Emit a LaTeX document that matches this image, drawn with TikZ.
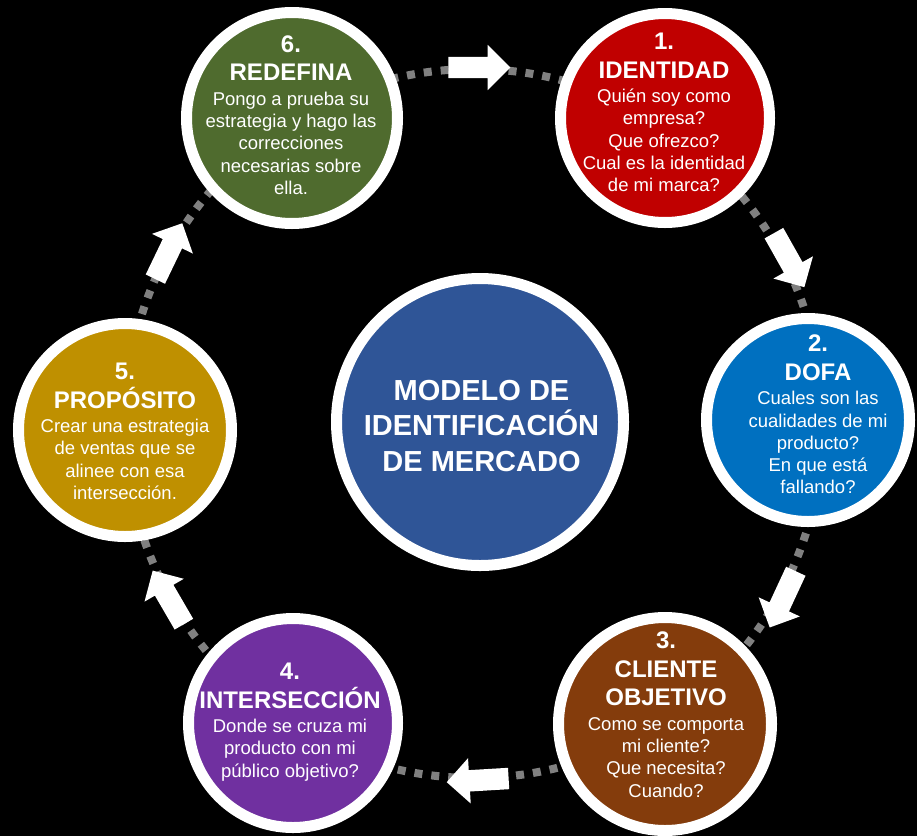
\documentclass[tikz,border=0pt]{standalone}
\usepackage{fontspec}
\setmainfont{Liberation Sans}
\usetikzlibrary{shapes.arrows}
\setlength\parindent{0pt}
\definecolor{cRed}{HTML}{C00000}
\definecolor{cGreen}{HTML}{4F6B2E}
\definecolor{cBlue}{HTML}{0070C0}
\definecolor{cBrown}{HTML}{843C0C}
\definecolor{cPurple}{HTML}{7030A0}
\definecolor{cGold}{HTML}{BF9000}
\definecolor{cCenter}{HTML}{2F5597}
\definecolor{cDot}{HTML}{808080}
\newcommand\hdfont{\fontsize{24}{28.5}\selectfont\bfseries\spaceskip=0.278em\relax}
\newcommand\bdfont{\fontsize{18.5}{22.3}\selectfont\spaceskip=0.278em\relax}
\newcommand\ctfont{\fontsize{29}{35.5}\selectfont\bfseries\spaceskip=0.278em\relax}
\begin{document}
\begin{tikzpicture}[x=1pt,y=-1pt,
  ring/.style={circle, draw=white, line width=11pt, inner sep=0pt},
  txt/.style={text=white, text width=220pt, align=center, inner sep=0pt, anchor=north},
  blockarrow/.style={single arrow, fill=white, draw=none, inner sep=0pt,
     minimum height=62pt, text height=10.5pt, text depth=10.5pt,
     single arrow head extend=12pt, minimum width=1pt},
  dots/.style={draw=cDot, line width=8pt, dash pattern=on 8pt off 9pt}]
\fill[black] (0,0) rectangle (917,836);
\useasboundingbox (0,0) rectangle (917,836);
% dotted ring
\draw[dots] (474,423.5) ellipse [x radius=349pt, y radius=354.5pt];
% circles
\node[ring, fill=cCenter, minimum size=287pt] (c0) at (480,422) {};
\node[ring, fill=cRed,    minimum size=209pt] (c1) at (665,118) {};
\node[ring, fill=cBlue,   minimum size=203pt] (c2) at (808,420) {};
\node[ring, fill=cBrown,  minimum size=213pt] (c3) at (665,724) {};
\node[ring, fill=cPurple, minimum size=209pt] (c4) at (293,723) {};
\node[ring, fill=cGold,   minimum size=213pt] (c5) at (125,430) {};
\node[ring, fill=cGreen,  minimum size=211pt] (c6) at (292,118) {};
% arrows
\node[blockarrow, rotate=0]      (a61) at (474,67.5) {};
\node[blockarrow, rotate=-60.6]  (a12) at (786.5,255.5) {};
\node[blockarrow, rotate=-114.9] (a23) at (785,594.5) {};
\node[blockarrow, rotate=183.4]  (a34) at (483,780) {};
\node[blockarrow, rotate=120.2]  (a45) at (171,602) {};
\node[blockarrow, rotate=64.3]   (a56) at (166.5,256) {};
% texts
\node[txt, text width=290pt] (t0) at (481.5,380) {\ctfont MODELO DE\par IDENTIFICACIÓN\par DE MERCADO\par};
\node[txt] (t1) at (664,33) {{\hdfont 1.\par IDENTIDAD\par}\vspace{2pt}{\bdfont Quién soy como\par empresa?\par Que ofrezco?\par Cual es la identidad\par de mi marca?\par}};
\node[txt] (t2) at (818,335) {{\hdfont 2.\par DOFA\par}\vspace{2pt}{\bdfont Cuales son las\par cualidades de mi\par producto?\par En que está\par fallando?\par}};
\node[txt] (t3) at (666,632) {{\hdfont 3.\par CLIENTE\par OBJETIVO\par}\vspace{2pt}{\bdfont Como se comporta\par mi cliente?\par Que necesita?\par Cuando?\par}};
\node[txt] (t4) at (290,663) {{\hdfont 4.\par INTERSECCIÓN\par}\vspace{2pt}{\bdfont Donde se cruza mi\par producto con mi\par público objetivo?\par}};
\node[txt] (t5) at (125,363) {{\hdfont 5.\par PROPÓSITO\par}\vspace{2pt}{\bdfont Crear una estrategia\par de ventas que se\par alinee con esa\par intersección.\par}};
\node[txt] (t6) at (291,35.5) {{\hdfont 6.\par REDEFINA\par}\vspace{2pt}{\bdfont Pongo a prueba su\par estrategia y hago las\par correcciones\par necesarias sobre\par ella.\par}};
\end{tikzpicture}
\end{document}
